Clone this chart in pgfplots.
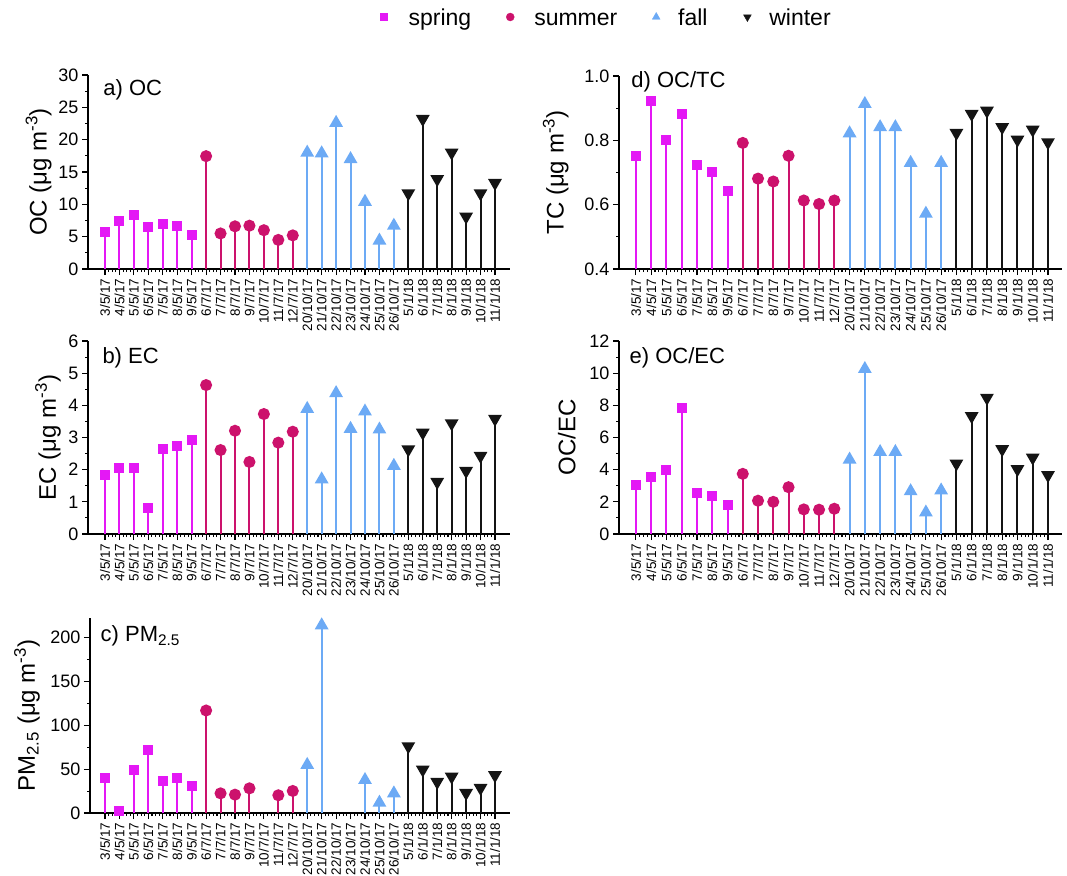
\documentclass[border=0pt]{standalone}
\usepackage{fontspec}
\setmainfont{Liberation Sans}
\usepackage{pgfplots}
\pgfplotsset{compat=1.18}
\definecolor{springc}{RGB}{228,24,245}
\definecolor{summerc}{RGB}{204,18,108}
\definecolor{fallc}{RGB}{108,170,245}
\definecolor{winterc}{RGB}{20,20,20}
\pgfplotsset{
  base/.style={
    scale only axis,
    axis x line*=bottom, axis y line*=left,
    axis line style={line width=1.5pt,-},
    tick style={line width=1.1pt,black},
    tick align=outside,
    major tick length=6pt, minor tick length=3pt,
    xtick={1,...,28},
    xticklabels={3/5/17,4/5/17,5/5/17,6/5/17,7/5/17,8/5/17,9/5/17,6/7/17,7/7/17,8/7/17,9/7/17,10/7/17,11/7/17,12/7/17,20/10/17,21/10/17,22/10/17,23/10/17,24/10/17,25/10/17,26/10/17,5/1/18,6/1/18,7/1/18,8/1/18,9/1/18,10/1/18,11/1/18},
    minor x tick num=3,
    minor y tick num=1,
    x tick label style={rotate=90,anchor=east,font=\fontsize{13.5}{14}\selectfont},
    y tick label style={font=\fontsize{18}{19}\selectfont},
    /pgf/number format/assume math mode=true,
    clip mode=individual,
    ylabel style={font=\fontsize{24}{26}\selectfont,anchor=center},
  },
  sp/.style={ycomb, color=springc, line width=2pt, mark=square*, mark size=4pt, mark options={solid}},
  su/.style={ycomb, color=summerc, line width=2pt, mark=*, mark size=5pt, mark options={solid}},
  fa/.style={ycomb, color=fallc, line width=2pt, mark=triangle*, mark size=6pt, mark options={solid}},
  wi/.style={ycomb, color=winterc, line width=2pt, mark=triangle*, mark size=6pt, mark options={solid,rotate=180}},
}
\newcommand{\ttl}{\fontsize{22}{24}\selectfont}
\begin{document}
\begin{tikzpicture}[x=1pt,y=1pt]
\useasboundingbox (0,0) rectangle (1067,-875);
% a) OC
\begin{axis}[base, at={(88pt,-269pt)}, anchor=south west, width=422pt, height=194pt,
  xmin=-0.177, xmax=29.04, ymin=0, ymax=30, ytick={0,5,...,30},
  ylabel={OC (μg m\textsuperscript{-3})},
  ylabel style={at={(axis description cs:-0.117,0.5)}},
  legend columns=4,
  legend style={at={(axis description cs:1.229,1.299)}, anchor=center, draw=none, fill=none,
    font=\fontsize{23}{25}\selectfont, column sep=0pt},
]
\addlegendimage{only marks, mark=square*, springc, mark size=3.5pt}
\addlegendentry{\strut\hspace{19pt}spring\rule{33pt}{0pt}}
\addlegendimage{only marks, mark=*, summerc, mark size=4pt}
\addlegendentry{\strut\hspace{18pt}summer\rule{33pt}{0pt}}
\addlegendimage{only marks, mark=triangle*, fallc, mark size=4.5pt}
\addlegendentry{\strut\hspace{16pt}fall\rule{34pt}{0pt}}
\addlegendimage{only marks, mark=triangle*, winterc, mark size=4.5pt, mark options={rotate=180}}
\addlegendentry{\strut\hspace{16pt}winter}
\addplot[sp, forget plot] coordinates {(1,5.7)(2,7.4)(3,8.3)(4,6.5)(5,6.9)(6,6.6)(7,5.3)};
\addplot[su, forget plot] coordinates {(8,17.45)(9,5.5)(10,6.6)(11,6.7)(12,6.0)(13,4.5)(14,5.2)};
\addplot[fa, forget plot] coordinates {(15,18.0)(16,17.9)(17,22.6)(18,17.0)(19,10.4)(20,4.4)(21,6.7)};
\addplot[wi, forget plot] coordinates {(22,11.7)(23,23.2)(24,13.9)(25,18.0)(26,8.1)(27,11.7)(28,13.3)};
\node[anchor=base west, font=\ttl] at (axis description cs:0.028,0.892) {a) OC};
\end{axis}
% d) OC/TC
\begin{axis}[base, at={(619pt,-269pt)}, anchor=south west, width=443pt, height=193pt,
  xmin=-0.11, xmax=28.92, ymin=0.4, ymax=1.0, ytick={0.4,0.6,0.8,1.0},
  yticklabel style={/pgf/number format/.cd, fixed, fixed zerofill, precision=1},
  ylabel={TC (μg m\textsuperscript{-3})},
  ylabel style={at={(axis description cs:-0.143,0.5)}},
]
\addplot[sp] coordinates {(1,0.752)(2,0.922)(3,0.800)(4,0.881)(5,0.722)(6,0.701)(7,0.642)};
\addplot[su] coordinates {(8,0.792)(9,0.681)(10,0.672)(11,0.752)(12,0.613)(13,0.602)(14,0.613)};
\addplot[fa] coordinates {(15,0.822)(16,0.913)(17,0.841)(18,0.841)(19,0.730)(20,0.572)(21,0.730)};
\addplot[wi] coordinates {(22,0.823)(23,0.882)(24,0.892)(25,0.841)(26,0.802)(27,0.833)(28,0.794)};
\node[anchor=base west, font=\ttl] at (axis description cs:0.02,0.938) {d) OC/TC};
\end{axis}
% b) EC
\begin{axis}[base, at={(88pt,-534pt)}, anchor=south west, width=422pt, height=193pt,
  xmin=-0.177, xmax=29.04, ymin=0, ymax=6, ytick={0,1,...,6},
  ylabel={EC (μg m\textsuperscript{-3})},
  ylabel style={at={(axis description cs:-0.095,0.5)}},
]
\addplot[sp] coordinates {(1,1.84)(2,2.06)(3,2.04)(4,0.81)(5,2.63)(6,2.75)(7,2.92)};
\addplot[su] coordinates {(8,4.63)(9,2.61)(10,3.21)(11,2.24)(12,3.73)(13,2.84)(14,3.18)};
\addplot[fa] coordinates {(15,3.89)(16,1.70)(17,4.38)(18,3.27)(19,3.81)(20,3.25)(21,2.12)};
\addplot[wi] coordinates {(22,2.63)(23,3.15)(24,1.62)(25,3.44)(26,1.96)(27,2.43)(28,3.58)};
\node[anchor=base west, font=\ttl] at (axis description cs:0.026,0.886) {b) EC};
\end{axis}
% e) OC/EC
\begin{axis}[base, at={(619pt,-534pt)}, anchor=south west, width=443pt, height=193pt,
  xmin=-0.11, xmax=28.92, ymin=0, ymax=12, ytick={0,2,...,12},
  ylabel={OC/EC},
  ylabel style={at={(axis description cs:-0.118,0.5)}},
]
\addplot[sp] coordinates {(1,3.06)(2,3.57)(3,3.99)(4,7.81)(5,2.58)(6,2.38)(7,1.80)};
\addplot[su] coordinates {(8,3.74)(9,2.07)(10,2.00)(11,2.91)(12,1.53)(13,1.51)(14,1.57)};
\addplot[fa] coordinates {(15,4.63)(16,10.26)(17,5.10)(18,5.10)(19,2.66)(20,1.34)(21,2.71)};
\addplot[wi] coordinates {(22,4.38)(23,7.33)(24,8.47)(25,5.27)(26,4.03)(27,4.75)(28,3.66)};
\node[anchor=base west, font=\ttl] at (axis description cs:0.016,0.886) {e) OC/EC};
\end{axis}
% c) PM2.5
\begin{axis}[base, at={(90pt,-813pt)}, anchor=south west, width=420pt, height=195pt,
  xmin=-0.04, xmax=29.04, ymin=0, ymax=222, ytick={0,50,...,200},
  ylabel={PM\textsubscript{2.5} (μg m\textsuperscript{-3})},
  ylabel style={at={(axis description cs:-0.15,0.5)}},
]
\addplot[sp] coordinates {(1,39.9)(2,2.3)(3,49.4)(4,71.9)(5,36.1)(6,40.3)(7,31.2)};
\addplot[su] coordinates {(8,116.7)(9,22.4)(10,20.9)(11,28.1)(13,20.2)(14,25.1)};
\addplot[fa] coordinates {(15,54.8)(16,213.7)(19,37.6)(20,11.8)(21,22.4)};
\addplot[wi] coordinates {(22,76.0)(23,49.4)(24,35.4)(25,41.4)(26,22.8)(27,28.5)(28,43.0)};
\node[anchor=base west, font=\ttl] at (axis description cs:0.017,0.877) {c) PM\textsubscript{2.5}};
\end{axis}
\end{tikzpicture}
\end{document}
